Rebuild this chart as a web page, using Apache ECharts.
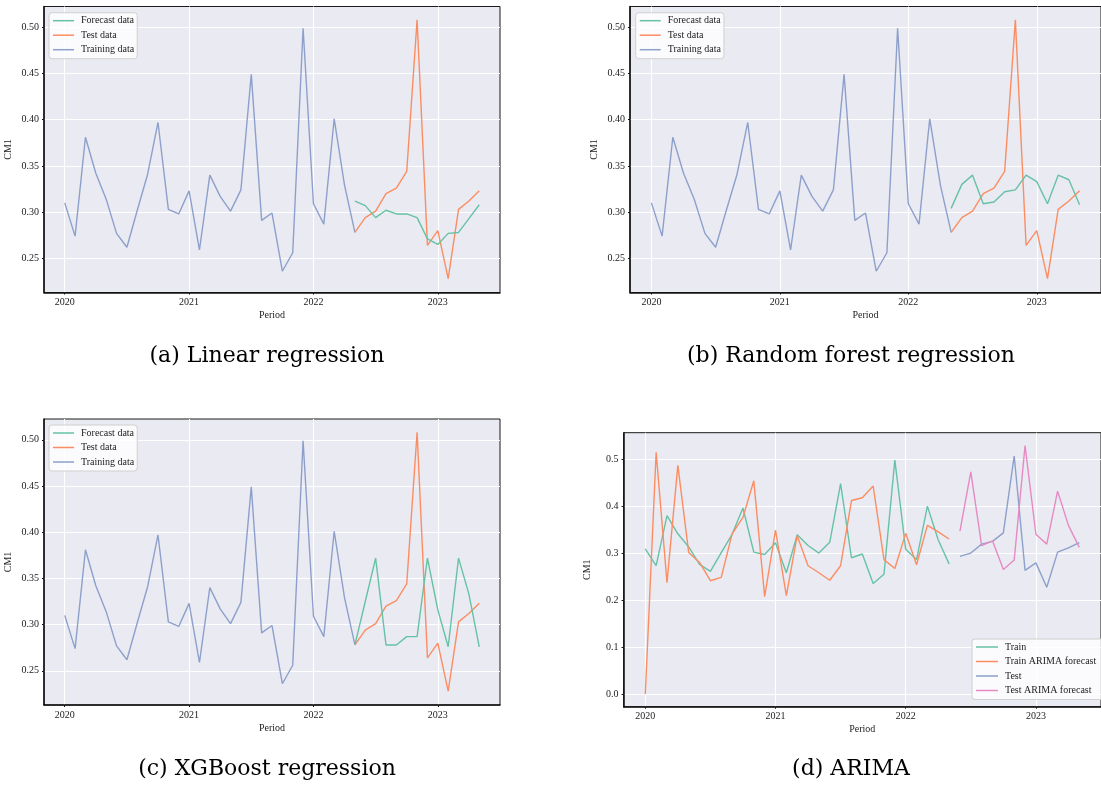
<!DOCTYPE html>
<html>
<head>
<meta charset="utf-8">
<script src="https://cdn.jsdelivr.net/npm/echarts@6/dist/echarts.min.js"></script>
<style>
  html, body { margin: 0; padding: 0; background: #ffffff; }
  #chart { width: 1101px; height: 787px; }
</style>
</head>
<body>
<div id="chart"></div>
<script>
// Monthly CM1 series, Jan 2020 .. May 2023 (month 0 = Jan 2020)
const startYear = 2020;
const yearTicks = [2020, 2021, 2022, 2023];
const cmTicks = [0.25, 0.30, 0.35, 0.40, 0.45, 0.50];
const arimaTicks = [0.0, 0.1, 0.2, 0.3, 0.4, 0.5];

// Jan 2020 .. May 2022
const trainingData = [0.310, 0.274, 0.381, 0.342, 0.314, 0.277, 0.262, 0.302, 0.341, 0.397,
  0.303, 0.298, 0.323, 0.259, 0.340, 0.317, 0.301, 0.324, 0.449, 0.291,
  0.299, 0.236, 0.256, 0.499, 0.309, 0.287, 0.401, 0.329, 0.278];
// May 2022 .. May 2023
const testData = [0.278, 0.294, 0.301, 0.320, 0.326, 0.344, 0.508, 0.264, 0.280, 0.228, 0.303, 0.312, 0.323];

const linearForecast = [0.312, 0.307, 0.294, 0.302, 0.298, 0.298, 0.294, 0.271, 0.265, 0.277, 0.278, 0.293, 0.308];
const forestForecast = [0.304, 0.330, 0.340, 0.309, 0.311, 0.322, 0.324, 0.340, 0.333, 0.309, 0.340, 0.335, 0.308];
const xgbForecast = [0.278, 0.325, 0.372, 0.278, 0.278, 0.287, 0.287, 0.372, 0.316, 0.276, 0.372, 0.333, 0.276];

// ARIMA: in-sample fit Jan 2020 .. May 2022, out-of-sample Jun 2022 .. May 2023
const arimaTrainForecast = [0.000, 0.516, 0.238, 0.488, 0.302, 0.281, 0.242, 0.249, 0.342, 0.377,
  0.455, 0.208, 0.350, 0.210, 0.338, 0.274, 0.259, 0.243, 0.274, 0.413,
  0.419, 0.444, 0.287, 0.268, 0.343, 0.276, 0.360, 0.346, 0.331];
const arimaTestForecast = [0.348, 0.474, 0.317, 0.327, 0.266, 0.286, 0.530, 0.341, 0.320, 0.433, 0.360, 0.313];

const trainOffset = 0;
const testOffset = 28;
const arimaTestOffset = 29;

const captions = ['(a) Linear regression', '(b) Random forest regression', '(c) XGBoost regression', '(d) ARIMA'];

const C_GREEN = '#66c2a5', C_ORANGE = '#fc8d62', C_BLUE = '#8da0cb', C_PINK = '#e78ac3';
const SERIF = 'Liberation Serif, Times New Roman, serif';
const CAPTION_FONT = '22px DejaVu Serif, serif';

function monthPoints(values, offset) {
  return values.map((v, k) => [startYear + (offset + k) / 12, v]);
}

const panels = [
  { left: 44, top: 6.5, width: 456, height: 286, ymin: 0.213, ymax: 0.5225, ticks: cmTicks, digits: 2 },
  { left: 630, top: 6.5, width: 480, height: 286, ymin: 0.213, ymax: 0.5225, ticks: cmTicks, digits: 2 },
  { left: 44, top: 419, width: 456, height: 286, ymin: 0.213, ymax: 0.5225, ticks: cmTicks, digits: 2 },
  { left: 623.6, top: 432.7, width: 486.5, height: 274, ymin: -0.0266, ymax: 0.5576, ticks: arimaTicks, digits: 1 }
];

const grid = panels.map(p => ({
  left: p.left, top: p.top, width: p.width, height: p.height,
  show: true, backgroundColor: '#eaeaf2', borderColor: '#1a1a1a', borderWidth: 1, containLabel: false
}));

const xAxis = panels.map((p, i) => ({
  type: 'value', gridIndex: i,
  min: startYear - 2 / 12, max: startYear + 42 / 12,
  name: 'Period', nameLocation: 'middle', nameGap: 18,
  nameTextStyle: { fontFamily: SERIF, fontSize: 10, color: '#222' },
  axisLine: { show: true, onZero: false, lineStyle: { color: '#111', width: 1.5 } },
  axisTick: { show: true, length: 2, customValues: yearTicks, lineStyle: { color: '#111', width: 1 } },
  axisLabel: { customValues: yearTicks, margin: 5, fontFamily: SERIF, fontSize: 10, color: '#222',
    formatter: v => String(Math.round(v)) },
  splitLine: { show: true, lineStyle: { color: '#ffffff', width: 1.1 } }
}));

const yAxis = panels.map((p, i) => ({
  type: 'value', gridIndex: i, min: p.ymin, max: p.ymax,
  name: 'CM1', nameLocation: 'middle', nameGap: 31, nameRotate: 90,
  nameTextStyle: { fontFamily: SERIF, fontSize: 10, color: '#222' },
  axisLine: { show: true, onZero: false, lineStyle: { color: '#111', width: 1.5 } },
  axisTick: { show: true, length: 2, customValues: p.ticks, lineStyle: { color: '#111', width: 1 } },
  axisLabel: { customValues: p.ticks, margin: 5, fontFamily: SERIF, fontSize: 10, color: '#222',
    formatter: v => v.toFixed(p.digits) },
  splitLine: { show: true, lineStyle: { color: '#ffffff', width: 1.1 } }
}));

function line(name, color, data, idx) {
  return {
    type: 'line', name, data, xAxisIndex: idx, yAxisIndex: idx,
    symbol: 'none', silent: true, animation: false,
    lineStyle: { color, width: 1.4 }, itemStyle: { color }
  };
}

const series = [];
[linearForecast, forestForecast, xgbForecast].forEach((fc, i) => {
  series.push(line('Training data', C_BLUE, monthPoints(trainingData, trainOffset), i));
  series.push(line('Test data', C_ORANGE, monthPoints(testData, testOffset), i));
  series.push(line('Forecast data', C_GREEN, monthPoints(fc, testOffset), i));
});
series.push(line('Train', C_GREEN, monthPoints(trainingData, trainOffset), 3));
series.push(line('Train ARIMA forecast', C_ORANGE, monthPoints(arimaTrainForecast, trainOffset), 3));
series.push(line('Test', C_BLUE, monthPoints(testData.slice(1), arimaTestOffset), 3));
series.push(line('Test ARIMA forecast', C_PINK, monthPoints(arimaTestForecast, arimaTestOffset), 3));

function legendBox(names, left, top, iconWidth, padRight) {
  return {
    orient: 'vertical', left, top, data: names,
    icon: 'rect', itemWidth: iconWidth, itemHeight: 1.5, itemGap: 2.5,
    padding: [2, padRight, 3, 4],
    backgroundColor: 'rgba(255,255,255,0.8)', borderColor: '#d0d0d0', borderWidth: 1, borderRadius: 3,
    selectedMode: false,
    textStyle: { fontFamily: SERIF, fontSize: 10, color: '#222', lineHeight: 12, padding: [0, 0, 0, 2] }
  };
}

const modelNames = ['Forecast data', 'Test data', 'Training data'];
const legend = [
  legendBox(modelNames, 49, 12.7, 21, 3),
  legendBox(modelNames, 635.7, 12.7, 21, 3),
  legendBox(modelNames, 49, 425, 21, 3),
  legendBox(['Train', 'Train ARIMA forecast', 'Test', 'Test ARIMA forecast'], 972, 639, 22, 10)
];

const captionPos = [[267, 356], [851, 356], [267, 769], [851, 769]];
const graphic = captions.map((t, i) => ({
  type: 'text', x: captionPos[i][0], y: captionPos[i][1], silent: true,
  style: { text: t, align: 'center', verticalAlign: 'middle', fill: '#000', font: CAPTION_FONT }
}));

const chart = echarts.init(document.getElementById('chart'), null, { renderer: 'canvas' });
chart.setOption({
  animation: false,
  backgroundColor: '#ffffff',
  grid, xAxis, yAxis, legend, series, graphic
});
</script>
</body>
</html>
